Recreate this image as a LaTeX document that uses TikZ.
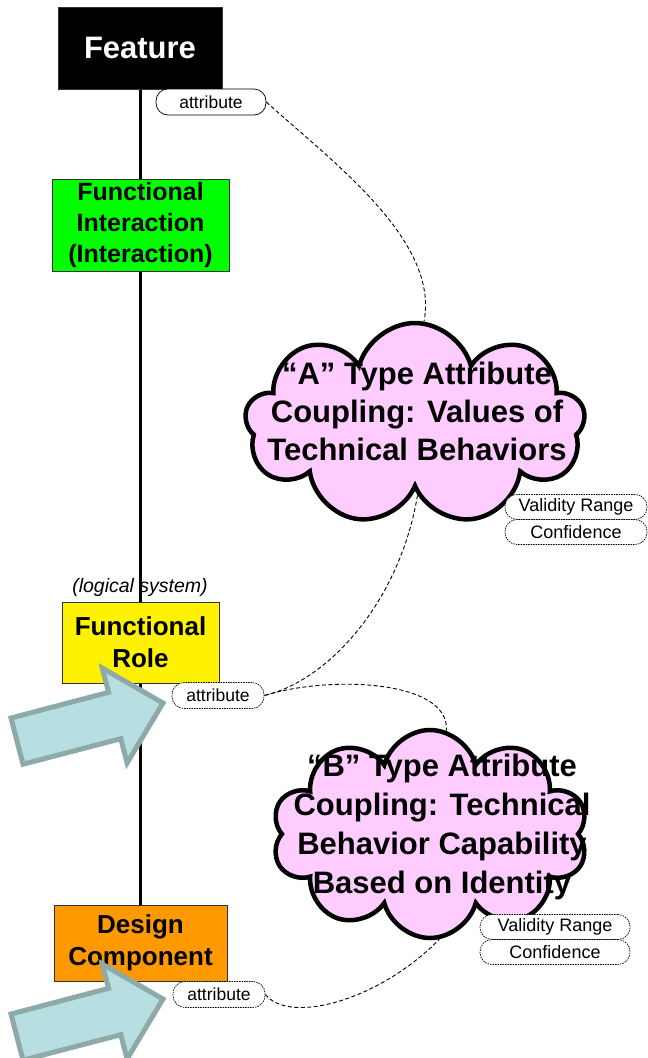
\documentclass[tikz,border=0pt]{standalone}
\usepackage{fontspec}
\setmainfont{Liberation Sans}
\usetikzlibrary{shapes,arrows,positioning}
\definecolor{cloudpink}{RGB}{255,204,255}
\definecolor{arrowfill}{RGB}{183,222,224}
\definecolor{arrowedge}{RGB}{143,169,169}
\definecolor{comporange}{RGB}{255,153,0}
\tikzstyle{block} = [rectangle,draw=black!80,line width=0.8pt,align=center,
  inner sep=0pt,font=\bfseries\fontsize{26}{32}\selectfont]
\tikzstyle{pill} = [rectangle,draw,fill=white,rounded corners=12pt,
  minimum height=26pt,inner sep=0pt,line width=0.7pt,font=\fontsize{17.5}{20}\selectfont]
\tikzstyle{dotpill} = [pill,dash pattern=on 1.5pt off 1pt]
\tikzstyle{bubble} = [cloud,cloud puffs=9,cloud ignores aspect,draw,
  line width=4.5pt,fill=cloudpink,inner sep=0pt]
\tikzstyle{bubbletext} = [align=center,font=\bfseries\fontsize{31}{38}\selectfont]
\tikzstyle{link} = [draw,dash pattern=on 4pt off 2.5pt,line width=0.9pt]
\tikzstyle{bigarrow} = [fill=arrowfill,draw=arrowedge,line width=5pt,line join=miter]

\begin{document}
\begin{tikzpicture}[x=1pt,y=-1pt]
\useasboundingbox (0,0) rectangle (648,1058);

% spine
\coordinate (top) at (140,89);
\coordinate (bottom) at (140,905);
\draw [line width=3pt] (top) -- (bottom);

% levels
\node [block, fill=black, text=white, minimum width=164pt, minimum height=82pt,
  font=\bfseries\fontsize{31}{36}\selectfont] (feature) at (140,48) {Feature};
\node [block, fill=green, minimum width=177pt, minimum height=92pt,
  font=\bfseries\fontsize{25}{31}\selectfont] (interaction) at (140.5,225)
  {Functional\\Interaction\\(Interaction)};
\node [font=\itshape\fontsize{19.5}{24}\selectfont] (logical) at (140,587) {(logical system)};
\node [block, fill=yellow, minimum width=157pt, minimum height=81pt] (role) at (140.5,642.5)
  {Functional\\Role};
\node [block, fill=comporange, minimum width=173pt, minimum height=76pt] (component) at (140.5,943)
  {Design\\Component};

% attributes
\node [pill, minimum width=110pt] (feature_attr) at (211,102) {attribute};
\node [dotpill, minimum width=92pt] (role_attr) at (218,695.5) {attribute};
\node [dotpill, minimum width=92pt] (component_attr) at (219,994.5) {attribute};

% couplings
\node [bubble, minimum width=340pt, minimum height=202pt] (coupling_a) at (415,424) {};
\node [bubbletext] (coupling_a_text) at (417,411)
  {``A'' Type Attribute\\Coupling: Values of\\Technical Behaviors};
\node [dotpill, minimum width=142pt, minimum height=25pt, font=\fontsize{18}{20}\selectfont]
  (validity_a) at (576,507) {Validity Range};
\node [dotpill, minimum width=142pt, minimum height=25pt, font=\fontsize{18}{20}\selectfont]
  (confidence_a) at (576,532) {Confidence};

\node [bubble, cloud puffs=10, minimum width=316pt, minimum height=208pt] (coupling_b) at (430,834) {};
\node [bubbletext, font=\bfseries\fontsize{31}{39}\selectfont] (coupling_b_text) at (442,827)
  {``B'' Type Attribute\\Coupling: Technical\\Behavior Capability\\Based on Identity};
\node [dotpill, minimum width=150pt, minimum height=25pt, font=\fontsize{18}{20}\selectfont]
  (validity_b) at (555,927) {Validity Range};
\node [dotpill, minimum width=150pt, minimum height=25pt, font=\fontsize{18}{20}\selectfont]
  (confidence_b) at (555,952) {Confidence};

\path [link] (feature_attr.east) .. controls (330,160) and (440,240) .. (coupling_a.85);
\path [link] (coupling_a.272) .. controls (400,600) and (330,680) .. (role_attr.east);
\path [link] (role_attr.east) .. controls (330,675) and (450,680) .. (coupling_b.81);
\path [link] (component_attr.east) .. controls (290,1025) and (380,1000) .. (coupling_b.275);

% pointers
\draw [bigarrow] (11,718) -- (108.6,692.3) -- (102.3,668.1) -- (163,703)
  -- (127.1,762.9) -- (120.8,738.7) -- (23,764.2) -- cycle;
\draw [bigarrow, shift={(0,296)}] (11,718) -- (108.6,692.3) -- (102.3,668.1) -- (163,703)
  -- (127.1,762.9) -- (120.8,738.7) -- (23,764.2) -- cycle;

\end{tikzpicture}
\end{document}
